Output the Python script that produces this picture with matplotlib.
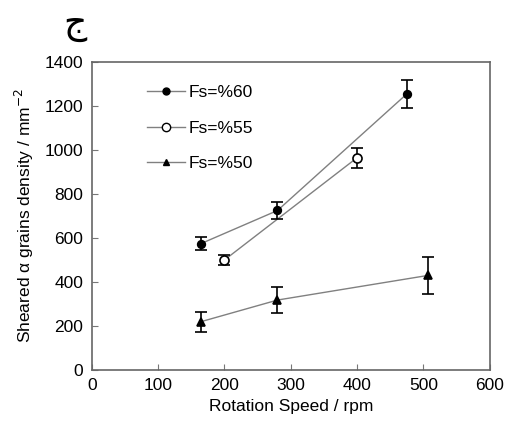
import matplotlib.pyplot as plt
from matplotlib.lines import Line2D

plt.rcParams['font.family'] = ['Liberation Sans', 'DejaVu Sans']

# Data
speed_60 = [165, 280, 475]
dens_60 = [575, 725, 1255]
err_60 = [28, 38, 62]

speed_55 = [200, 400]
dens_55 = [500, 965]
err_55 = [22, 45]

speed_50 = [165, 280, 507]
dens_50 = [220, 318, 430]
err_50 = [45, 58, 85]

x_ticks = [0, 100, 200, 300, 400, 500, 600]
y_ticks = [0, 200, 400, 600, 800, 1000, 1200, 1400]

fig = plt.figure(figsize=(5.07, 4.32), dpi=100)
ax = fig.add_axes([0.181, 0.1435, 0.785, 0.713])

line_col = '#808080'
series = [
    (speed_60, dens_60, err_60, 'o', 'black', 5.5, 'Fs=%60'),
    (speed_55, dens_55, err_55, 'o', 'white', 6.5, 'Fs=%55'),
    (speed_50, dens_50, err_50, '^', 'black', 5.5, 'Fs=%50'),
]
handles = []
for xs, ys, es, mk, fc, ms, lab in series:
    ax.plot(xs, ys, '-', color=line_col, lw=1.0, zorder=2)
    ax.errorbar(xs, ys, yerr=es, fmt='none', ecolor='black', elinewidth=1.2,
                capsize=4, capthick=1.2, zorder=3)
    ax.plot(xs, ys, linestyle='none', marker=mk, markersize=ms,
            markerfacecolor=fc, markeredgecolor='black', markeredgewidth=1.2, zorder=4)
    handles.append(Line2D([], [], color=line_col, lw=1.0, marker=mk,
                          markersize=ms - 0.5, markerfacecolor=fc,
                          markeredgecolor='black', label=lab))

ax.set_xlim(0, 600)
ax.set_ylim(0, 1400)
ax.set_xticks(x_ticks)
ax.set_yticks(y_ticks)
ax.tick_params(direction='in', labelsize=12.5, length=4, color='#777777', pad=6)
for s in ax.spines.values():
    s.set_color('#666666')
    s.set_linewidth(1.2)

ax.set_xlabel('Rotation Speed / rpm', fontsize=12.5, labelpad=4)
ax.set_ylabel('Sheared α grains density / mm$^{-2}$', fontsize=12.5, labelpad=6)

ax.legend(handles=handles, loc='upper left', bbox_to_anchor=(0.1, 0.975), frameon=False,
          fontsize=12.5, handlelength=2.2, labelspacing=1.15, handletextpad=0.2)

fig.text(0.125, 0.925, 'ج', fontsize=26, family=['Noto Sans', 'DejaVu Sans'])

fig.savefig('out.png', dpi=100)
